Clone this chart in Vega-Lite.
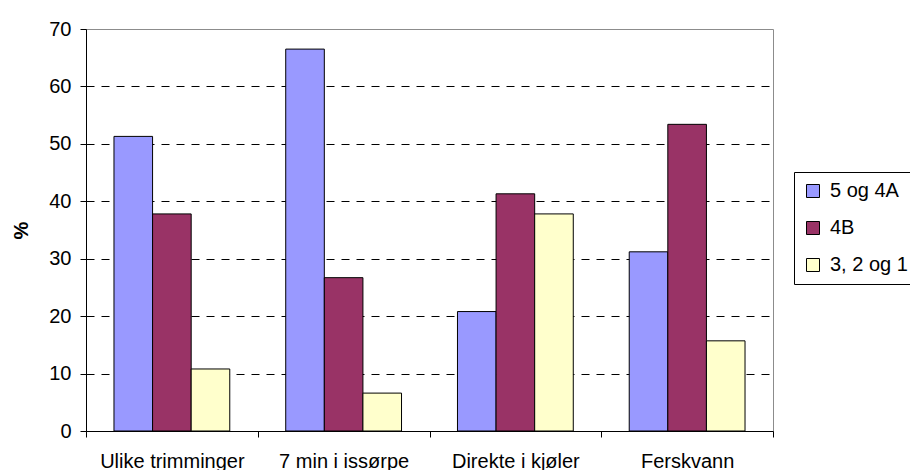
{
  "$schema": "https://vega.github.io/schema/vega-lite/v6.json",
  "autosize": "none",
  "width": 687,
  "height": 402,
  "padding": {"left": 86, "top": 29, "right": 137, "bottom": 39},
  "background": "white",
  "data": {
    "values": [
      {"kategori": "Ulike trimminger", "serie": "5 og 4A", "prosent": 51.3},
      {"kategori": "Ulike trimminger", "serie": "4B", "prosent": 37.8},
      {"kategori": "Ulike trimminger", "serie": "3, 2 og 1", "prosent": 10.8},
      {"kategori": "7 min i issørpe", "serie": "5 og 4A", "prosent": 66.5},
      {"kategori": "7 min i issørpe", "serie": "4B", "prosent": 26.7},
      {"kategori": "7 min i issørpe", "serie": "3, 2 og 1", "prosent": 6.6},
      {"kategori": "Direkte i kjøler", "serie": "5 og 4A", "prosent": 20.8},
      {"kategori": "Direkte i kjøler", "serie": "4B", "prosent": 41.3},
      {"kategori": "Direkte i kjøler", "serie": "3, 2 og 1", "prosent": 37.8},
      {"kategori": "Ferskvann", "serie": "5 og 4A", "prosent": 31.2},
      {"kategori": "Ferskvann", "serie": "4B", "prosent": 53.4},
      {"kategori": "Ferskvann", "serie": "3, 2 og 1", "prosent": 15.7}
    ]
  },
  "mark": {"type": "bar", "stroke": "black", "strokeWidth": 1},
  "encoding": {
    "x": {
      "field": "kategori",
      "type": "nominal",
      "sort": null,
      "scale": {"paddingInner": 0, "paddingOuter": 0},
      "axis": {
        "title": null,
        "labelAngle": 0,
        "tickBand": "extent",
        "domainColor": "black",
        "tickColor": "black",
        "tickSize": 6,
        "labelFontSize": 20,
        "labelFont": "Liberation Sans",
        "labelColor": "black",
        "labelPadding": 14,
        "grid": false
      }
    },
    "xOffset": {
      "field": "serie",
      "type": "nominal",
      "sort": null,
      "scale": {"paddingInner": 0, "paddingOuter": 0.725}
    },
    "y": {
      "field": "prosent",
      "type": "quantitative",
      "scale": {"domain": [0, 70], "nice": false},
      "axis": {
        "title": "%",
        "titleFont": "Liberation Sans",
        "titleFontSize": 20,
        "titleFontWeight": "bold",
        "titleColor": "black",
        "titleAngle": -90,
        "titleX": -65,
        "titleY": 201,
        "titleAlign": "center",
        "titleBaseline": "middle",
        "values": [0, 10, 20, 30, 40, 50, 60, 70],
        "domainColor": "black",
        "tickColor": "black",
        "tickSize": 6,
        "labelFontSize": 20,
        "labelFont": "Liberation Sans",
        "labelColor": "black",
        "labelPadding": 9,
        "grid": true,
        "gridColor": {"condition": {"test": "datum.value === 0 || datum.value === 70", "value": "transparent"}, "value": "black"},
        "gridDash": [8, 7],
        "gridWidth": 1
      }
    },
    "color": {
      "field": "serie",
      "type": "nominal",
      "sort": null,
      "scale": {"domain": ["5 og 4A", "4B", "3, 2 og 1"], "range": ["#9999FF", "#993366", "#FFFFCC"]},
      "legend": {
        "title": null,
        "orient": "none",
        "legendX": 708,
        "legendY": 143,
        "padding": 9,
        "strokeColor": "black",
        "fillColor": "white",
        "symbolType": "square",
        "symbolSize": 169,
        "symbolStrokeColor": "black",
        "symbolStrokeWidth": 1,
        "symbolOpacity": 1,
        "labelFontSize": 20,
        "labelFont": "Liberation Sans",
        "labelColor": "black",
        "labelOffset": 7,
        "rowPadding": 17
      }
    }
  },
  "config": {
    "view": {"stroke": "#8c8c8c", "strokeWidth": 1},
    "font": "Liberation Sans"
  }
}
